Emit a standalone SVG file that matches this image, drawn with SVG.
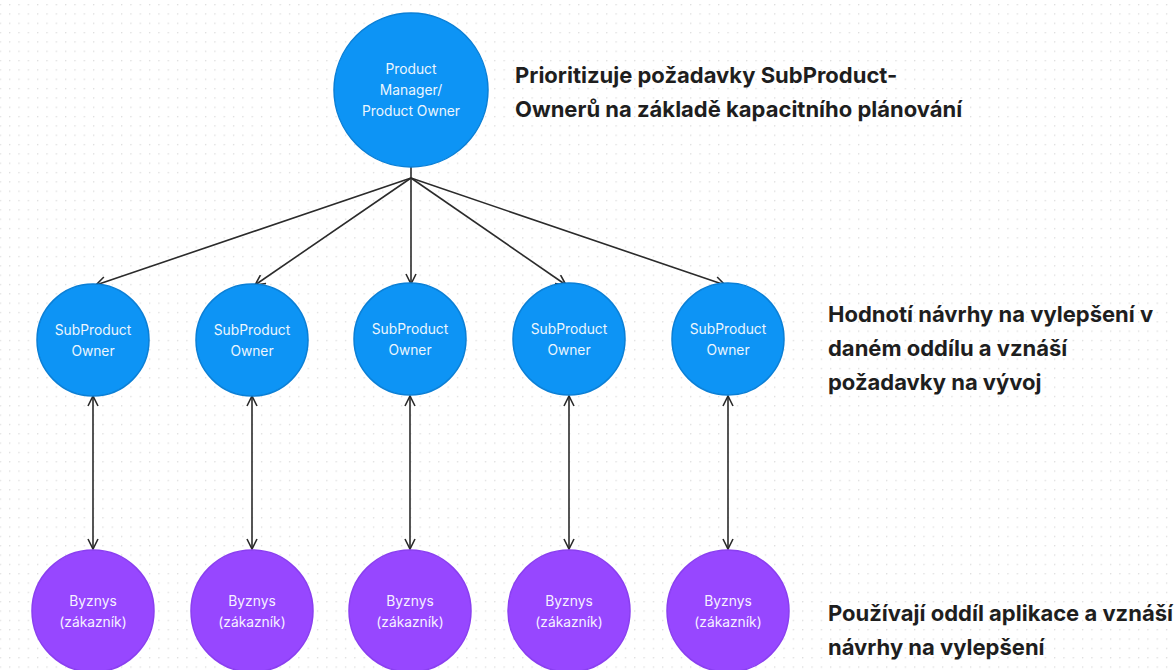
<svg xmlns="http://www.w3.org/2000/svg" width="1174" height="670" viewBox="0 0 1174 670">
<defs>
<pattern id="dots" x="9" y="13.3" width="9.33" height="9.33" patternUnits="userSpaceOnUse">
<circle cx="0.7" cy="0.7" r="0.7" fill="#d4d4d4"/>
</pattern>
<marker id="arr" viewBox="0 0 12 12" refX="11" refY="6" markerWidth="12" markerHeight="12" markerUnits="userSpaceOnUse" orient="auto-start-reverse">
<path d="M1,1 L11,6 L1,11" fill="none" stroke="#2b2b2b" stroke-width="1.6"/>
</marker>
<style>
.blue{fill:#0D94F5;stroke:#0a7fd6;stroke-width:1.5}
.purple{fill:#9747FF;stroke:#8a3ff0;stroke-width:1.5}
.nt{font-family:Inter,"Noto Sans",sans-serif;font-size:13.8px;fill:#ffffff;text-anchor:middle;opacity:0.92}
.lab{font-family:Inter,"Noto Sans",sans-serif;font-size:22px;font-weight:700;fill:#1e1e1e}
.con{stroke:#2b2b2b;stroke-width:1.6;fill:none}
</style>
</defs>
<rect width="1174" height="670" fill="#ffffff"/>
<rect width="1174" height="670" fill="url(#dots)"/>
<g id="connectors">
<line class="con" x1="411" y1="167" x2="411" y2="178"/>
<line class="con" x1="411" y1="178" x2="96" y2="285" marker-end="url(#arr)"/>
<line class="con" x1="411" y1="178" x2="255" y2="285" marker-end="url(#arr)"/>
<line class="con" x1="411" y1="178" x2="411" y2="284" marker-end="url(#arr)"/>
<line class="con" x1="411" y1="178" x2="566" y2="285" marker-end="url(#arr)"/>
<line class="con" x1="411" y1="178" x2="725" y2="285" marker-end="url(#arr)"/>
<line class="con" x1="93" y1="396" x2="93" y2="549" marker-start="url(#arr)" marker-end="url(#arr)"/>
<line class="con" x1="252" y1="396" x2="252" y2="549" marker-start="url(#arr)" marker-end="url(#arr)"/>
<line class="con" x1="410" y1="396" x2="410" y2="549" marker-start="url(#arr)" marker-end="url(#arr)"/>
<line class="con" x1="569" y1="396" x2="569" y2="549" marker-start="url(#arr)" marker-end="url(#arr)"/>
<line class="con" x1="728" y1="396" x2="728" y2="549" marker-start="url(#arr)" marker-end="url(#arr)"/>
</g>
<g id="pm">
<circle class="blue" cx="411" cy="90" r="77"/>
<text class="nt" x="411" y="74">Product</text>
<text class="nt" x="411" y="95">Manager/</text>
<text class="nt" x="411" y="116">Product Owner</text>
</g>
<g id="spo1"><circle class="blue" cx="93" cy="340" r="56"/><text class="nt" x="93" y="335">SubProduct</text><text class="nt" x="93" y="356">Owner</text></g>
<g id="spo2"><circle class="blue" cx="252" cy="340" r="56"/><text class="nt" x="252" y="335">SubProduct</text><text class="nt" x="252" y="356">Owner</text></g>
<g id="spo3"><circle class="blue" cx="410" cy="339" r="56"/><text class="nt" x="410" y="334">SubProduct</text><text class="nt" x="410" y="355">Owner</text></g>
<g id="spo4"><circle class="blue" cx="569" cy="339" r="56"/><text class="nt" x="569" y="334">SubProduct</text><text class="nt" x="569" y="355">Owner</text></g>
<g id="spo5"><circle class="blue" cx="728" cy="339" r="56"/><text class="nt" x="728" y="334">SubProduct</text><text class="nt" x="728" y="355">Owner</text></g>
<g id="biz1"><circle class="purple" cx="93" cy="611" r="61"/><text class="nt" x="93" y="606">Byznys</text><text class="nt" x="93" y="627">(zákazník)</text></g>
<g id="biz2"><circle class="purple" cx="252" cy="611" r="61"/><text class="nt" x="252" y="606">Byznys</text><text class="nt" x="252" y="627">(zákazník)</text></g>
<g id="biz3"><circle class="purple" cx="410" cy="611" r="61"/><text class="nt" x="410" y="606">Byznys</text><text class="nt" x="410" y="627">(zákazník)</text></g>
<g id="biz4"><circle class="purple" cx="569" cy="611" r="61"/><text class="nt" x="569" y="606">Byznys</text><text class="nt" x="569" y="627">(zákazník)</text></g>
<g id="biz5"><circle class="purple" cx="728" cy="611" r="61"/><text class="nt" x="728" y="606">Byznys</text><text class="nt" x="728" y="627">(zákazník)</text></g>
<g id="label-pm">
<text class="lab" x="515" y="83">Prioritizuje požadavky SubProduct-</text>
<text class="lab" x="515" y="117">Ownerů na základě kapacitního plánování</text>
</g>
<g id="label-spo">
<text class="lab" x="828" y="322">Hodnotí návrhy na vylepšení v</text>
<text class="lab" x="828" y="356">daném oddílu a vznáší</text>
<text class="lab" x="828" y="390">požadavky na vývoj</text>
</g>
<g id="label-biz">
<text class="lab" x="828" y="621">Používají oddíl aplikace a vznáší</text>
<text class="lab" x="828" y="655">návrhy na vylepšení</text>
</g>
</svg>
